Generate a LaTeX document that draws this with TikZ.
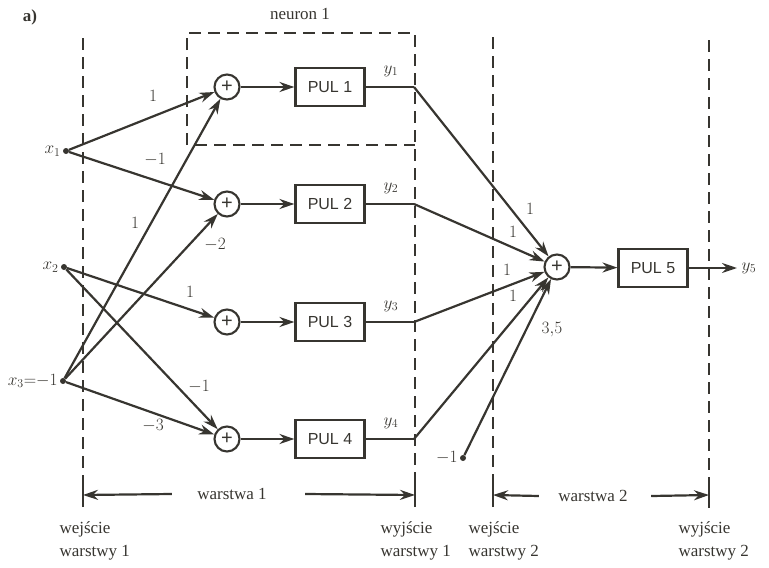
\documentclass[tikz,border=0pt]{standalone}
\usepackage{fontspec}
\setmainfont{Liberation Serif}
\newfontfamily\pulfont{Liberation Sans}
\usetikzlibrary{arrows.meta,positioning}
\definecolor{ink}{RGB}{55,53,48}
\tikzset{
  wire/.style={draw=ink, line width=2.2pt},
  arr/.style={wire, -{Stealth[length=15pt,width=10pt]}},
  bound/.style={draw=ink, line width=2.1pt, dash pattern=on 12pt off 7pt},
  sumnode/.style={circle, draw=ink, line width=2.1pt, minimum size=25pt, inner sep=0pt,
    font=\pulfont\fontsize{20}{20}\selectfont},
  pulbox/.style={rectangle, draw=ink, line width=2.1pt, minimum width=69pt, minimum height=38pt,
    inner sep=0pt, font=\pulfont\fontsize{16}{16}\selectfont},
  inpt/.style={circle, fill=ink, inner sep=0pt, minimum size=6pt},
  foot/.style={anchor=west, align=left, font=\fontsize{17}{23}\selectfont},
}
\begin{document}
\begin{tikzpicture}[x=1pt,y=-1pt, font=\fontsize{17}{20}\selectfont, text=ink]
\useasboundingbox (0,0) rectangle (769,568);
\node (a) at (30,17) {\textbf{a)}};
\node (nlabel) at (300,14) {neuron 1};

% frame of neuron 1 and layer boundaries
\draw[bound] (187,145) -- (187,33) -- (415,33) -- (415,508);
\draw[bound] (195,145) -- (415,145);
\draw[bound] (83,38) -- (83,508);
\draw[bound] (493,37) -- (493,508);
\draw[bound] (709,40) -- (709,508);

% inputs
\node[inpt, label={[inner sep=2pt]left:$x_1$}] (x1) at (66,151) {};
\node[inpt, label={[inner sep=2pt]left:$x_2$}] (x2) at (64,267) {};
\node[inpt, label={[inner sep=2pt]left:$x_3{=}{-}1$}] (x3) at (63,381) {};
\node[inpt, label={[inner sep=2pt]left:${-}1$}] (b2) at (463,458) {};

% layer 1
\foreach \i/\y in {1/87, 2/204, 3/322, 4/439} {
  \node[sumnode] (s\i) at (227,\y) {+};
  \node[pulbox] (p\i) at (330,\y) {PUL \i};
  \coordinate (c\i) at (414,\y);
  \draw[arr] (s\i) -- (p\i);
  \draw[wire] (p\i) -- (c\i);
  \node (y\i) at (391,\y-16) {$y_\i$};
}

% layer 2
\node[sumnode] (s5) at (557,267) {+};
\node[pulbox] (p5) at (653,268) {PUL 5};
\coordinate (out) at (737,268);
\node[right=1pt of out] (y5) {$y_5$};
\draw[arr] (s5) -- (p5);
\draw[arr] (p5) -- (out);

\draw[arr] (x1) -- (s1);
\draw[arr] (x1) -- (s2);
\draw[arr] (x3) -- (s1);
\draw[arr] (x3) -- (s2);
\draw[arr] (x2) -- (s3);
\draw[arr] (x2) -- (s4);
\draw[arr] (x3) -- (s4);
\foreach \i in {1,...,4}
  \draw[arr] (c\i) -- (s5);
\draw[arr] (b2) -- (s5);

% weights
\foreach \t/\p [count=\i] in {1/{153,96}, {-1}/{155,160}, 1/{135,223}, {-2}/{215,245},
    1/{190,292}, {-1}/{199,387}, {-3}/{153,426}, 1/{530,209}, 1/{513,232},
    1/{507,270}, 1/{513,296}, {3{,}5}/{552,330}}
  \node (w\i) at (\p) {$\t$};

% layers
\node (war1) at (232,494) {warstwa 1};
\node (war2) at (593,496) {warstwa 2};
\coordinate (e1) at (83,495);  \coordinate (o1) at (415,495);
\coordinate (e2) at (493,495); \coordinate (o2) at (709,495);
\draw[arr] ([xshift=-22pt]war1.west) -- (e1);
\draw[arr] ([xshift=35pt]war1.east) -- (o1);
\draw[arr] ([xshift=-16pt]war2.west) -- (e2);
\draw[arr] ([xshift=20pt]war2.east) -- (o2);
\foreach \c in {e1,o1,e2,o2}
  \draw[wire] ([yshift=-12pt]\c) -- ([yshift=13pt]\c);

\node[foot] (f1) at (56,541) {wejście\\warstwy 1};
\node[foot] (f2) at (377,541) {wyjście\\warstwy 1};
\node[foot] (f3) at (465,541) {wejście\\warstwy 2};
\node[foot] (f4) at (675,541) {wyjście\\warstwy 2};
\end{tikzpicture}
\end{document}
